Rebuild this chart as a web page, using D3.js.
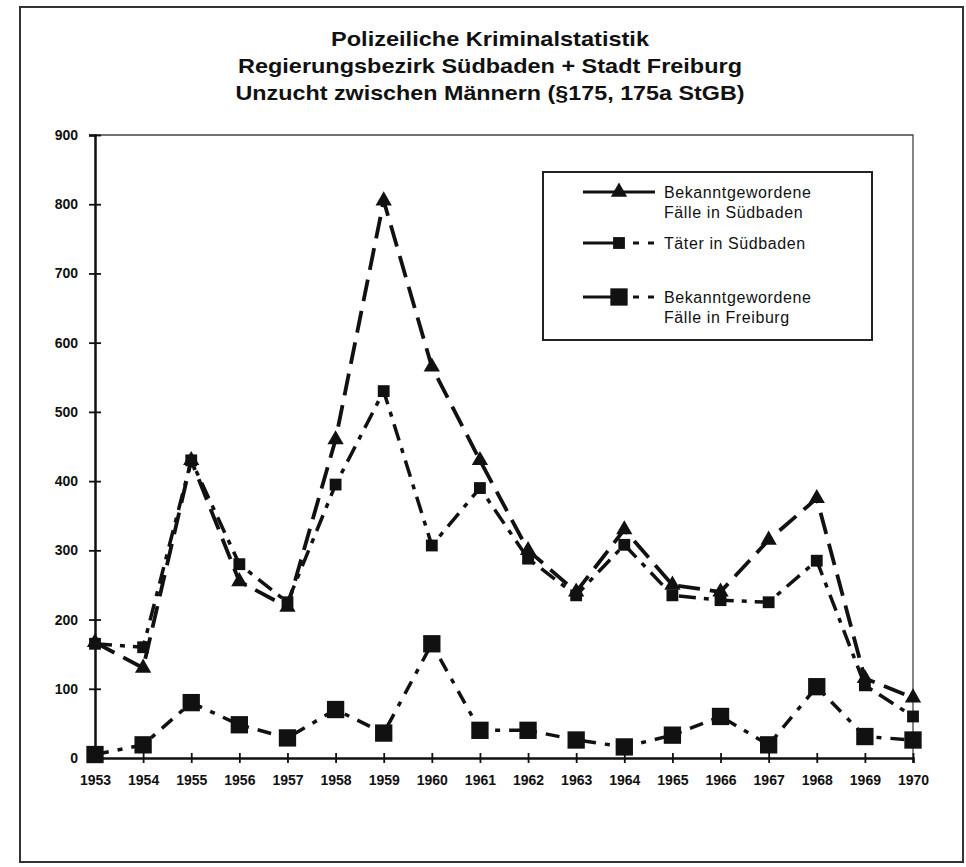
<!DOCTYPE html>
<html>
<head>
<meta charset="utf-8">
<script src="https://cdn.jsdelivr.net/npm/d3@7"></script>
<style>
  html, body { margin: 0; padding: 0; background: #fff; }
  svg { display: block; }
  text { fill: #111; }
</style>
</head>
<body>
<div id="chart"></div>
<script>
// Values
const years = [1953, 1954, 1955, 1956, 1957, 1958, 1959, 1960, 1961, 1962, 1963, 1964, 1965, 1966, 1967, 1968, 1969, 1970];
const faelleSuedbaden = [167, 130, 430, 255, 218, 460, 805, 565, 430, 300, 240, 330, 250, 240, 315, 375, 115, 87];
const taeterSuedbaden = [165, 160, 430, 280, 225, 395, 530, 307, 390, 288, 235, 308, 235, 228, 225, 285, 105, 60];
const faelleFreiburg = [5, 19, 80, 48, 29, 70, 36, 165, 40, 40, 26, 16, 33, 60, 19, 103, 31, 26];
const yTicks = [0, 100, 200, 300, 400, 500, 600, 700, 800, 900];
const titleLines = [
    "Polizeiliche Kriminalstatistik",
    "Regierungsbezirk Südbaden + Stadt Freiburg",
    "Unzucht zwischen Männern (§175, 175a StGB)"
];
const legendLabels = [
    ["Bekanntgewordene", "Fälle in Südbaden"],
    ["Täter in Südbaden"],
    ["Bekanntgewordene", "Fälle in Freiburg"]
];

const W = 966, H = 867;
const ink = "#111";

const svg = d3.select("#chart").append("svg")
    .attr("width", W)
    .attr("height", H);

// outer frame of the page
svg.append("rect")
    .attr("x", 20).attr("y", 7)
    .attr("width", 943).attr("height", 855)
    .attr("fill", "none")
    .attr("stroke", "#333")
    .attr("stroke-width", 2);

// Title
const titleW = [318, 504, 509];
svg.selectAll("text.title")
    .data(titleLines)
    .join("text")
    .attr("class", "title")
    .attr("x", 490)
    .attr("y", (d, i) => 46 + i * 27)
    .attr("text-anchor", "middle")
    .attr("textLength", (d, i) => titleW[i])
    .attr("lengthAdjust", "spacingAndGlyphs")
    .style("font-family", "'Liberation Sans Narrow', 'Liberation Sans', Arial, sans-serif")
    .style("font-weight", "bold")
    .style("font-size", "21px")
    .text(d => d);

// Scales
const x = d3.scaleLinear().domain([1953, 1970]).range([95, 913]);
const y = d3.scaleLinear().domain([0, 900]).range([758, 135]);

// plot frame (thin top + right)
svg.append("path")
    .attr("d", `M${x(1953)},${y(900)}H${x(1970)}V${y(0)}`)
    .attr("fill", "none")
    .attr("stroke", "#444")
    .attr("stroke-width", 1.3);

// Y axis
const yAxis = svg.append("g")
    .attr("transform", `translate(${x(1953)},0)`)
    .call(d3.axisLeft(y).tickValues(yTicks).tickSize(6).tickPadding(10));
yAxis.select(".domain").attr("stroke", ink).attr("stroke-width", 2.5);
yAxis.selectAll(".tick line").attr("x1", 6).attr("stroke", ink).attr("stroke-width", 1.8);
yAxis.selectAll(".tick text")
    .style("font-family", "'Liberation Sans', Arial, sans-serif")
    .style("font-weight", "bold")
    .style("font-size", "14px")
    .attr("x", -17)
    .attr("fill", ink);

// X axis
const xAxis = svg.append("g")
    .attr("transform", `translate(0,${y(0)})`)
    .call(d3.axisBottom(x).tickValues(years).tickFormat(d3.format("d")).tickSize(5).tickPadding(12));
xAxis.select(".domain").attr("stroke", ink).attr("stroke-width", 2.5);
xAxis.selectAll(".tick line").attr("y1", -5).attr("stroke", ink).attr("stroke-width", 1.8);
xAxis.selectAll(".tick text")
    .style("font-family", "'Liberation Sans', Arial, sans-serif")
    .style("font-weight", "bold")
    .style("font-size", "14px")
    .attr("fill", ink);

// Series
const series = [
    { values: faelleSuedbaden, dash: "22,10", width: 3.8, symbol: d3.symbolTriangle, size: 115 },
    { values: taeterSuedbaden, dash: "17,8,5,8", width: 3.5, symbol: d3.symbolSquare, size: 140 },
    { values: faelleFreiburg, dash: "14,9,5,9", width: 3.5, symbol: d3.symbolSquare, size: 300 }
];

const line = d3.line()
    .x((d, i) => x(years[i]))
    .y(d => y(d));

series.forEach(s => {
    svg.append("path")
        .datum(s.values)
        .attr("d", line)
        .attr("fill", "none")
        .attr("stroke", ink)
        .attr("stroke-width", s.width)
        .attr("stroke-dasharray", s.dash);
});

series.forEach(s => {
    svg.append("g")
        .selectAll("path")
        .data(s.values)
        .join("path")
        .attr("transform", (d, i) => `translate(${x(years[i])},${y(d)})`)
        .attr("d", d3.symbol().type(s.symbol).size(s.size))
        .attr("fill", ink);
});

// Legend
svg.append("rect")
    .attr("x", 543).attr("y", 172)
    .attr("width", 329).attr("height", 168)
    .attr("fill", "#fff")
    .attr("stroke", "#222")
    .attr("stroke-width", 2);

const legendY = [192, 243, 297];
const legendDash = [null, "36,14,6,9,6,100", "36,14,6,9,6,100"];
series.forEach((s, i) => {
    const g = svg.append("g").attr("transform", `translate(0,${legendY[i]})`);
    g.append("line")
        .attr("x1", 583).attr("x2", 655)
        .attr("stroke", ink)
        .attr("stroke-width", 3)
        .attr("stroke-dasharray", legendDash[i]);
    g.append("path")
        .attr("transform", "translate(619,0)")
        .attr("d", d3.symbol().type(s.symbol).size(s.size))
        .attr("fill", ink);
    g.selectAll("text")
        .data(legendLabels[i])
        .join("text")
        .attr("x", 664)
        .attr("y", (d, j) => 6 + j * 20)
        .style("font-family", "'Liberation Sans', Arial, sans-serif")
        .style("font-size", "16px")
        .style("letter-spacing", "0.6px")
        .text(d => d);
});
</script>
</body>
</html>
